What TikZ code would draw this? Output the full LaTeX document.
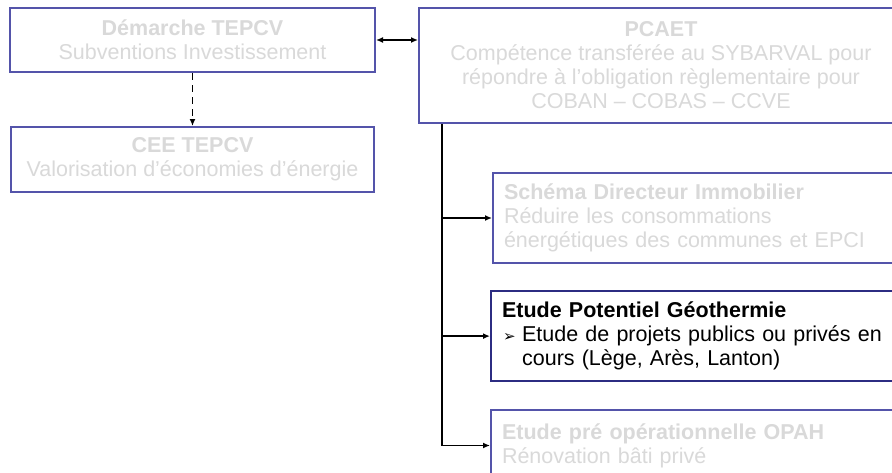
\documentclass[tikz,border=0pt]{standalone}
\usepackage{fontspec}
\setmainfont{Liberation Sans}
\newfontfamily\symfont{DejaVu Sans}
\usetikzlibrary{arrows.meta}
\definecolor{boxblue}{RGB}{84,84,170}
\definecolor{boxnavy}{RGB}{44,44,130}
\definecolor{fadegray}{RGB}{217,217,217}
\newcommand{\arrbullet}{\makebox[20pt][l]{\hspace*{1pt}\symfont\fontsize{15}{15}\selectfont ➢}}

\tikzset{
  plan/.style={draw=boxblue, line width=2pt, fill=white, text=fadegray,
    inner sep=0pt, font=\fontsize{21.5}{24}\selectfont},
  planc/.style={plan, align=center},
  planl/.style={plan, anchor=north west, align=left, inner xsep=11pt},
  link/.style={line width=1.8pt, -{Latex[length=7pt,width=6pt]}},
}

\begin{document}
\begin{tikzpicture}[x=1pt,y=-1pt]
\clip (0,0) rectangle (892,472);
\node[planc, minimum width=365pt, minimum height=64pt] (dem) at (192.5,40)
  {\textbf{Démarche TEPCV}\\Subventions Investissement};
\node[planc, minimum width=363pt, minimum height=65pt] (cee) at (192.5,159.5)
  {\textbf{CEE TEPCV}\\Valorisation d’économies d’énergie};
\node[planc, minimum width=484pt, minimum height=115pt] (pcaet) at (661,65.5)
  {\textbf{PCAET}\\Compétence transférée au SYBARVAL pour\\répondre à l’obligation règlementaire pour\\COBAN – COBAS – CCVE};
\node[planl, text width=389pt, minimum height=90pt] (sdi) at (492,172)
  {\textbf{Schéma Directeur Immobilier}\\Réduire les consommations\\énergétiques des communes et EPCI};
\node[planl, draw=boxnavy, line width=2.2pt, text=black, text width=389pt, minimum height=90pt] (geo) at (490,290)
  {\textbf{Etude Potentiel Géothermie}\\\arrbullet Etude de projets publics ou privés en\\\hspace*{20pt}cours (Lège, Arès, Lanton)};
\node[planl, text width=389pt, minimum height=71pt] (opah) at (490,409)
  {\textbf{Etude pré opérationnelle OPAH}\\Rénovation bâti privé};

\coordinate (trunk) at ([xshift=24pt]pcaet.south west);

\draw[link, dash pattern=on 7pt off 5pt] (dem) -- (cee);
\draw[link, {Latex[length=7pt,width=6pt]}-{Latex[length=7pt,width=6pt]}]
  (dem.east) -- (dem.east -| pcaet.west);
\draw[link] (trunk) |- (sdi.west);
\draw[link] (trunk) |- (geo.west);
\draw[link] (trunk) |- (opah.west);
\end{tikzpicture}
\end{document}
